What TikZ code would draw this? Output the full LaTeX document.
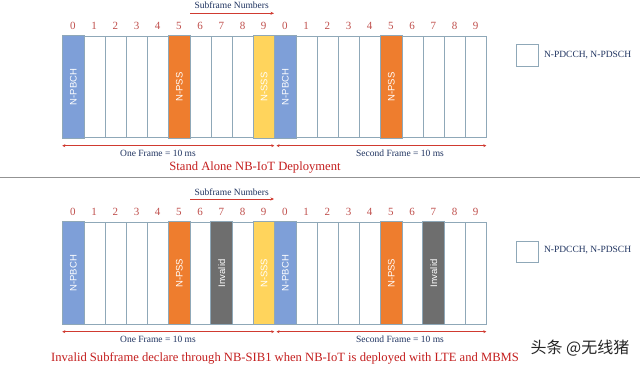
\documentclass[tikz,border=0pt]{standalone}
\usepackage{fontspec}
\setmainfont{Liberation Serif}
\setsansfont{Liberation Sans}
\newfontfamily\cjkfont{Noto Sans CJK SC}
\usetikzlibrary{arrows.meta}
\definecolor{cellborder}{HTML}{8FA8B8}
\definecolor{pbchblue}{HTML}{7E9FD8}
\definecolor{pssorange}{HTML}{EE7D2E}
\definecolor{sssyellow}{HTML}{FFD45C}
\definecolor{invgray}{HTML}{6E6E6E}
\definecolor{numred}{HTML}{C0504D}
\definecolor{capred}{HTML}{C41E1E}
\definecolor{navy}{HTML}{1F3360}
\definecolor{arrred}{HTML}{D03A30}
\tikzset{
  cellbox/.style={draw=cellborder, line width=0.9pt, fill=white, inner sep=0pt, minimum width=21.2pt, anchor=north west},
  celllabel/.style={rotate=90, text=white, font=\sffamily\fontsize{9.5}{10}\selectfont},
  numlbl/.style={text=numred, font=\fontsize{11}{12}\selectfont},
  navytext/.style={text=navy, font=\fontsize{9.5}{11}\selectfont},
  caption/.style={text=capred, font=\fontsize{12.6}{14}\selectfont},
  framearrow/.style={draw=arrred, line width=0.6pt, {Stealth[length=3pt,width=3pt]}-{Stealth[length=3pt,width=3pt]}},
  subarrow/.style={draw=arrred, line width=0.8pt, -{Stealth[length=3.5pt,width=3pt]}},
}
\begin{document}
\begin{tikzpicture}[x=1pt,y=-1pt]
\useasboundingbox[fill=white] (0,0) rectangle (640,367);

% ---------------- top panel ----------------
\foreach \i in {0,...,19}{
  \pgfmathtruncatemacro{\d}{mod(\i,10)}
  \node[cellbox, minimum height=101.6pt] (t\i) at ({62.3+21.2*\i},35.7) {};
  \node[numlbl] (tn\i) at ({72.9+21.2*\i},25.7) {\d};
}
\fill[pbchblue, draw=cellborder, line width=0.9pt] (t0.north west) rectangle (t0.south east);
\fill[pssorange, draw=cellborder, line width=0.9pt] (t5.north west) rectangle (t5.south east);
\fill[sssyellow, draw=cellborder, line width=0.9pt] (t9.north west) rectangle (t9.south east);
\fill[pbchblue, draw=cellborder, line width=0.9pt] (t10.north west) rectangle (t10.south east);
\fill[pssorange, draw=cellborder, line width=0.9pt] (t15.north west) rectangle (t15.south east);
\node[celllabel] (tl0) at (t0.center) {N-PBCH};
\node[celllabel] (tl5) at (t5.center) {N-PSS};
\node[celllabel] (tl9) at (t9.center) {N-SSS};
\node[celllabel] (tl10) at (t10.center) {N-PBCH};
\node[celllabel] (tl15) at (t15.center) {N-PSS};

\node[navytext] (tsub) at (231.7,5.5) {Subframe Numbers};
\coordinate (tsa) at (190,13.3);
\coordinate (tsb) at (274,13.3);
\draw[subarrow] (tsa) -- (tsb);

\coordinate (tf1a) at (62.3,145.7);
\coordinate (tf1b) at (274.3,145.7);
\coordinate (tf2a) at (276.5,145.7);
\coordinate (tf2b) at (486.3,145.7);
\draw[framearrow] (tf1a) -- (tf1b);
\draw[framearrow] (tf2a) -- (tf2b);
\node[navytext] (tone) at (158,153.5) {One Frame = 10 ms};
\node[navytext] (ttwo) at (400,153.5) {Second Frame = 10 ms};
\node[caption] (tcap) at (255,167.5) {Stand Alone NB-IoT Deployment};

\node[draw=cellborder, line width=0.9pt, minimum width=22pt, minimum height=22pt, inner sep=0pt, anchor=north west] (tleg) at (516,44) {};
\node[navytext, anchor=west] (tlegt) at (540.5,55) {N-PDCCH, N-PDSCH};

% separator
\coordinate (sepa) at (0,177.7);
\coordinate (sepb) at (640,177.7);
\draw[line width=1.5pt, draw=gray!85] (sepa) -- (sepb);

% ---------------- bottom panel ----------------
\foreach \i in {0,...,19}{
  \pgfmathtruncatemacro{\d}{mod(\i,10)}
  \node[cellbox, minimum height=102.3pt] (b\i) at ({62.3+21.2*\i},221.7) {};
  \node[numlbl] (bn\i) at ({72.9+21.2*\i},212.3) {\d};
}
\fill[pbchblue, draw=cellborder, line width=0.9pt] (b0.north west) rectangle (b0.south east);
\fill[pssorange, draw=cellborder, line width=0.9pt] (b5.north west) rectangle (b5.south east);
\fill[invgray, draw=cellborder, line width=0.9pt] (b7.north west) rectangle (b7.south east);
\fill[sssyellow, draw=cellborder, line width=0.9pt] (b9.north west) rectangle (b9.south east);
\fill[pbchblue, draw=cellborder, line width=0.9pt] (b10.north west) rectangle (b10.south east);
\fill[pssorange, draw=cellborder, line width=0.9pt] (b15.north west) rectangle (b15.south east);
\fill[invgray, draw=cellborder, line width=0.9pt] (b17.north west) rectangle (b17.south east);
\node[celllabel] (bl0) at (b0.center) {N-PBCH};
\node[celllabel] (bl5) at (b5.center) {N-PSS};
\node[celllabel] (bl7) at (b7.center) {Invalid};
\node[celllabel] (bl9) at (b9.center) {N-SSS};
\node[celllabel] (bl10) at (b10.center) {N-PBCH};
\node[celllabel] (bl15) at (b15.center) {N-PSS};
\node[celllabel] (bl17) at (b17.center) {Invalid};

\node[navytext] (bsub) at (231.7,191.7) {Subframe Numbers};
\coordinate (bsa) at (190,199);
\coordinate (bsb) at (274,199);
\draw[subarrow] (bsa) -- (bsb);

\coordinate (bf1a) at (62.3,331.7);
\coordinate (bf1b) at (274.3,331.7);
\coordinate (bf2a) at (276.5,331.7);
\coordinate (bf2b) at (486.3,331.7);
\draw[framearrow] (bf1a) -- (bf1b);
\draw[framearrow] (bf2a) -- (bf2b);
\node[navytext] (bone) at (158,339.3) {One Frame = 10 ms};
\node[navytext] (btwo) at (400,339.3) {Second Frame = 10 ms};
\node[caption] (bcap) at (285,358.5) {Invalid Subframe declare through NB-SIB1 when NB-IoT is deployed with LTE and MBMS};

\node[draw=cellborder, line width=0.9pt, minimum width=22pt, minimum height=21pt, inner sep=0pt, anchor=north west] (bleg) at (516,240.7) {};
\node[navytext, anchor=west] (blegt) at (540.5,250.5) {N-PDCCH, N-PDSCH};

\node[text=gray!30!black, font=\cjkfont\fontsize{16}{18}\selectfont, anchor=west] (wm) at (527,348) {头条 @无线猪};
\end{tikzpicture}
\end{document}
